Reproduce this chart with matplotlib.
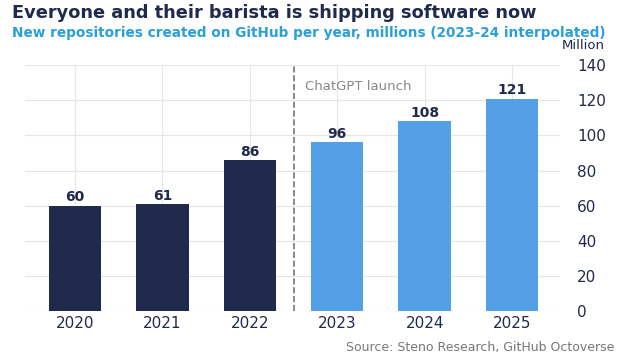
import matplotlib.pyplot as plt
import numpy as np

years = ['2020', '2021', '2022', '2023', '2024', '2025']
repos = [60, 61, 86, 96, 108, 121]
colors = ['#1f2a4c', '#1f2a4c', '#1f2a4c', '#54a0e6', '#54a0e6', '#54a0e6']

navy = '#1f2a4c'

fig = plt.figure(figsize=(6.26, 3.58), dpi=100)
ax = fig.add_axes([0.04, 0.131, 0.855, 0.687])

x = np.arange(len(years))
bars = ax.bar(x, repos, width=0.6, color=colors, zorder=3)
for xi, v in zip(x, repos):
    ax.text(xi, v + 0.8, str(v), ha='center', va='bottom', fontsize=10,
            fontweight='bold', color=navy, zorder=4)

ax.axvline(2.5, color='#777777', linestyle='--', linewidth=1.2, zorder=2)
ax.text(2.63, 128, 'ChatGPT launch', color='#888888', fontsize=9.5, va='center')

ax.set_xlim(-0.57, 5.55)
ax.set_ylim(0, 140)
ax.set_yticks(range(0, 141, 20))
ax.set_xticks(x)
ax.set_xticklabels(years)
ax.yaxis.tick_right()
ax.tick_params(axis='both', length=0, labelsize=11, colors=navy)
ax.tick_params(axis='y', pad=12)
ax.grid(True, color='#e6e6e6', linewidth=0.8, zorder=0)
for s in ax.spines.values():
    s.set_visible(False)

fig.text(0.019, 0.965, 'Everyone and their barista is shipping software now',
         fontsize=12.75, fontweight='bold', color=navy, va='center')
fig.text(0.019, 0.907, 'New repositories created on GitHub per year, millions (2023-24 interpolated)',
         fontsize=9.85, fontweight='bold', color='#2a9fd8', va='center')
fig.text(0.931, 0.872, 'Million', fontsize=9.5, color=navy, ha='center', va='center')
fig.text(0.981, 0.03, 'Source: Steno Research, GitHub Octoverse',
         fontsize=9.0, color='#777777', ha='right', va='center')

fig.savefig('out.png', dpi=100)
